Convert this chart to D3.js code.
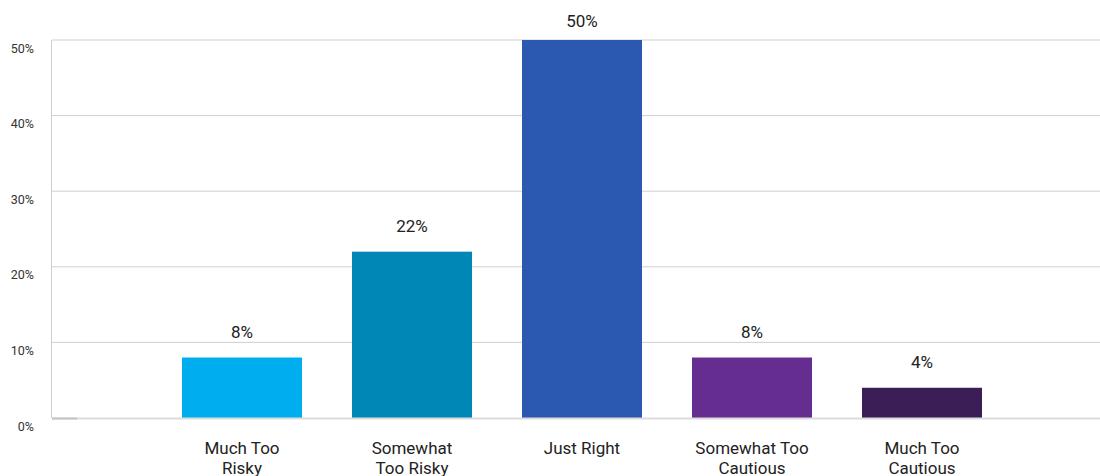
<!DOCTYPE html>
<html>
<head>
<meta charset="utf-8">
<script src="https://cdn.jsdelivr.net/npm/d3@7"></script>
<style>
  html, body { margin: 0; padding: 0; background: #fff; }
  svg { display: block; font-family: Roboto, "Noto Sans", sans-serif; }
</style>
</head>
<body>
<svg id="chart" width="1100" height="476"></svg>
<script>
// Survey responses: how the portfolio's risk level feels
const categories = ["Much Too Risky", "Somewhat Too Risky", "Just Right", "Somewhat Too Cautious", "Much Too Cautious"];
const labelLines = [["Much Too", "Risky"], ["Somewhat", "Too Risky"], ["Just Right"], ["Somewhat Too", "Cautious"], ["Much Too", "Cautious"]];
const values = [8, 22, 50, 8, 4];
const colors = ["#00aeef", "#0087b5", "#2b58b0", "#662d91", "#3b1e55"];
const yTicks = [0, 10, 20, 30, 40, 50];

const svg = d3.select("#chart");
const plotLeft = 52, plotRight = 1100, plotTop = 40, plotBottom = 418;

const y = d3.scaleLinear().domain([0, 50]).range([plotBottom, plotTop]);
const inner = 50 / 170;
const x = d3.scaleBand()
  .domain(categories)
  .range([157, 1007])
  .paddingInner(inner)
  .paddingOuter(inner / 2);

// Horizontal gridlines
svg.append("g")
  .selectAll("line")
  .data(yTicks.filter(d => d > 0))
  .join("line")
  .attr("x1", plotLeft).attr("x2", plotRight)
  .attr("y1", d => y(d)).attr("y2", d => y(d))
  .attr("stroke", "#cfcfcf").attr("stroke-width", 1);

// Left axis line
svg.append("line")
  .attr("x1", plotLeft - 0.5).attr("x2", plotLeft - 0.5)
  .attr("y1", plotTop).attr("y2", plotBottom)
  .attr("stroke", "#cfcfcf").attr("stroke-width", 1);

// Y tick labels, sitting just below each gridline
svg.append("g")
  .selectAll("text")
  .data(yTicks)
  .join("text")
  .attr("x", 34).attr("y", d => y(d) + 12.5)
  .attr("text-anchor", "end")
  .attr("font-size", 12.5)
  .attr("fill", "#333")
  .text(d => d + "%");

// Bars
svg.append("g")
  .selectAll("rect")
  .data(categories)
  .join("rect")
  .attr("x", d => x(d))
  .attr("y", (d, i) => y(values[i]))
  .attr("width", x.bandwidth())
  .attr("height", (d, i) => y(0) - y(values[i]))
  .attr("fill", (d, i) => colors[i]);

// Baseline
svg.append("line")
  .attr("x1", plotLeft).attr("x2", plotRight)
  .attr("y1", plotBottom + 0.5).attr("y2", plotBottom + 0.5)
  .attr("stroke", "#dcdcdc").attr("stroke-width", 2);
svg.append("line")
  .attr("x1", plotLeft).attr("x2", plotLeft + 25)
  .attr("y1", plotBottom + 0.5).attr("y2", plotBottom + 0.5)
  .attr("stroke", "#c4c4c4").attr("stroke-width", 2);

// Value labels above bars, kept inside the top margin
svg.append("g")
  .selectAll("text")
  .data(categories)
  .join("text")
  .attr("x", d => x(d) + x.bandwidth() / 2)
  .attr("y", (d, i) => Math.max(y(values[i]) - 20, 27))
  .attr("text-anchor", "middle")
  .attr("font-size", 17)
  .attr("fill", "#222")
  .text((d, i) => values[i] + "%");

// Category labels
const cat = svg.append("g")
  .selectAll("text")
  .data(categories)
  .join("text")
  .attr("x", d => x(d) + x.bandwidth() / 2)
  .attr("y", 454)
  .attr("text-anchor", "middle")
  .attr("font-size", 17)
  .attr("fill", "#222");
cat.selectAll("tspan")
  .data((d, i) => labelLines[i])
  .join("tspan")
  .attr("x", function () { return d3.select(this.parentNode).attr("x"); })
  .attr("dy", (d, j) => j === 0 ? 0 : 20)
  .text(d => d);
</script>
</body>
</html>
